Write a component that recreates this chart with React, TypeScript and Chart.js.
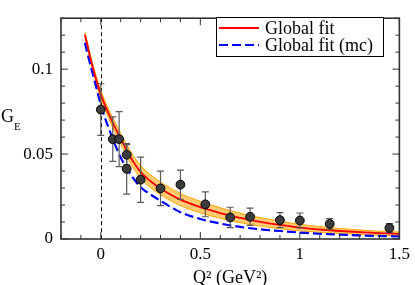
import React, { useEffect, useRef } from "react";
import { Chart, registerables } from "chart.js";

Chart.register(...registerables);

// ---------- data ----------
const curveQ2 = [-0.08, -0.06, -0.04, -0.02, 0, 0.05, 0.1, 0.15, 0.2, 0.25, 0.3, 0.4, 0.5, 0.6, 0.7, 0.8, 0.9, 1.0, 1.1, 1.2, 1.3, 1.4, 1.5];
const globalFit = [0.1204, 0.1104, 0.101, 0.0925, 0.085, 0.071, 0.059, 0.048, 0.0395, 0.034, 0.0298, 0.0232, 0.0188, 0.0153, 0.0124, 0.0101, 0.0083, 0.0067, 0.0056, 0.0047, 0.004, 0.0034, 0.003];
const globalFitMc = [0.1155, 0.106, 0.097, 0.088, 0.079, 0.062, 0.048, 0.038, 0.0305, 0.0262, 0.0225, 0.0158, 0.0118, 0.0091, 0.0071, 0.0057, 0.0047, 0.0038, 0.0031, 0.0026, 0.0021, 0.0018, 0.0015];
const bandUpper = [0.1219, 0.1121, 0.1029, 0.0946, 0.0874, 0.0738, 0.0622, 0.0516, 0.0433, 0.0378, 0.0335, 0.0268, 0.0222, 0.0184, 0.0152, 0.0126, 0.0105, 0.0086, 0.0073, 0.0062, 0.0053, 0.0046, 0.0041];
const bandLower = [0.1189, 0.1087, 0.0991, 0.0904, 0.0826, 0.0682, 0.0558, 0.0444, 0.0357, 0.0302, 0.0261, 0.0196, 0.0154, 0.0122, 0.0096, 0.0076, 0.0061, 0.0048, 0.0039, 0.0032, 0.0027, 0.0022, 0.0019];

const dataQ2 = [0.0, 0.06, 0.092, 0.13, 0.13, 0.2, 0.3, 0.4, 0.525, 0.65, 0.75, 0.9, 1.0, 1.15, 1.45];
const dataGE = [0.0762, 0.0588, 0.0588, 0.0496, 0.0413, 0.0349, 0.0298, 0.032, 0.0204, 0.0127, 0.0131, 0.0111, 0.0109, 0.0089, 0.0065];
const dataErr = [0.0152, 0.0131, 0.0162, 0.006, 0.0149, 0.0133, 0.0102, 0.0086, 0.0073, 0.006, 0.0051, 0.0044, 0.0044, 0.0031, 0.0026];

const xTicks = [0, 0.5, 1, 1.5];
const xTickLabels = ["0", "0.5", "1", "1.5"];
const yTicks = [0, 0.05, 0.1];
const yTickLabels = ["0", "0.05", "0.1"];
const xMinorTicks = [-0.2, -0.1, 0, 0.1, 0.2, 0.3, 0.4, 0.5, 0.6, 0.7, 0.8, 0.9, 1.0, 1.1, 1.2, 1.3, 1.4, 1.5];
const yMinorTicks = [0, 0.01, 0.02, 0.03, 0.04, 0.05, 0.06, 0.07, 0.08, 0.09, 0.1, 0.11, 0.12, 0.13];
const legendLabels = ["Global fit", "Global fit (mc)"];
const xTitle = "Q\u00B2 (GeV\u00B2)";
const yTitleMain = "G";
const yTitleSub = "E";

const SERIF = "'Liberation Serif', 'Times New Roman', serif";
const RED = "#ff0000";
const BLUE = "#0000ff";

const pts = (xs: number[], ys: number[]) => xs.map((x, i) => ({ x, y: ys[i] }));

const decorPlugin = {
  id: "decor",
  beforeDatasetsDraw(chart: any) {
    const { ctx, chartArea, scales } = chart;
    const x0 = scales.x.getPixelForValue(0);
    ctx.save();
    ctx.strokeStyle = "#000";
    ctx.lineWidth = 1;
    ctx.setLineDash([4, 3]);
    ctx.beginPath();
    ctx.moveTo(Math.round(x0) + 0.5, chartArea.top);
    ctx.lineTo(Math.round(x0) + 0.5, chartArea.bottom);
    ctx.stroke();
    ctx.restore();
  },
  beforeDatasetDraw(chart: any, args: any) {
    if (args.index !== 0) return;
    const { ctx, scales } = chart;
    ctx.save();
    ctx.strokeStyle = "#5a5a5a";
    ctx.lineWidth = 1.2;
    dataQ2.forEach((q, i) => {
      const px = scales.x.getPixelForValue(q);
      const top = scales.y.getPixelForValue(dataGE[i] + dataErr[i]);
      const bot = scales.y.getPixelForValue(dataGE[i] - dataErr[i]);
      ctx.beginPath();
      ctx.moveTo(px, top);
      ctx.lineTo(px, bot);
      ctx.moveTo(px - 3.5, top);
      ctx.lineTo(px + 3.5, top);
      ctx.moveTo(px - 3.5, bot);
      ctx.lineTo(px + 3.5, bot);
      ctx.stroke();
    });
    ctx.restore();
  },
  afterDraw(chart: any) {
    const { ctx, chartArea, scales } = chart;
    const { left, right, top, bottom } = chartArea;
    ctx.save();
    // frame
    ctx.strokeStyle = "#333";
    ctx.lineWidth = 1.6;
    ctx.setLineDash([]);
    ctx.strokeRect(left, top, right - left, bottom - top);
    // ticks
    ctx.lineWidth = 1;
    ctx.beginPath();
    xMinorTicks.forEach((v) => {
      const px = scales.x.getPixelForValue(v);
      const len = xTicks.includes(v) ? 7 : 4;
      ctx.moveTo(px, bottom);
      ctx.lineTo(px, bottom - len);
      ctx.moveTo(px, top);
      ctx.lineTo(px, top + len);
    });
    yMinorTicks.forEach((v) => {
      const py = scales.y.getPixelForValue(v);
      const len = yTicks.includes(v) ? 7 : 4;
      ctx.moveTo(left, py);
      ctx.lineTo(left + len, py);
      ctx.moveTo(right, py);
      ctx.lineTo(right - len, py);
    });
    ctx.stroke();

    // y title
    ctx.fillStyle = "#000";
    ctx.textBaseline = "alphabetic";
    ctx.textAlign = "left";
    ctx.font = `18px ${SERIF}`;
    ctx.fillText(yTitleMain, 1, 122);
    const gw = ctx.measureText(yTitleMain).width;
    ctx.font = `11px ${SERIF}`;
    ctx.fillText(yTitleSub, 1 + gw, 130);

    // legend
    const lx = 216, ly = 17, lw = 167, lh = 39;
    ctx.fillStyle = "#fff";
    ctx.fillRect(lx, ly, lw, lh);
    ctx.strokeStyle = "#000";
    ctx.lineWidth = 1;
    ctx.strokeRect(lx + 0.5, ly + 0.5, lw, lh);
    ctx.lineWidth = 1.8;
    ctx.strokeStyle = RED;
    ctx.beginPath();
    ctx.moveTo(219, 28);
    ctx.lineTo(259, 28);
    ctx.stroke();
    ctx.lineWidth = 2.2;
    ctx.strokeStyle = BLUE;
    ctx.setLineDash([9, 4]);
    ctx.beginPath();
    ctx.moveTo(219, 45);
    ctx.lineTo(259, 45);
    ctx.stroke();
    ctx.setLineDash([]);
    ctx.fillStyle = "#000";
    ctx.font = `18px ${SERIF}`;
    ctx.fillText(legendLabels[0], 265, 34);
    ctx.fillText(legendLabels[1], 265, 51);
    ctx.restore();
  },
};

export default function App() {
  const ref = useRef<HTMLCanvasElement | null>(null);
  useEffect(() => {
    document.body.style.margin = "0";
    const canvas = ref.current!;
    const chart = new Chart(canvas, {
      type: "line",
      data: {
        datasets: [
          {
            type: "scatter",
            label: "data",
            data: pts(dataQ2, dataGE),
            pointRadius: 4.4,
            pointBackgroundColor: "#3c3c3c",
            pointBorderColor: "#000",
            pointBorderWidth: 1,
            showLine: false,
          },
          {
            label: legendLabels[0],
            data: pts(curveQ2, globalFit),
            borderColor: RED,
            borderWidth: 1.8,
            pointRadius: 0,
            fill: false,
            cubicInterpolationMode: "monotone",
          },
          {
            label: legendLabels[1],
            data: pts(curveQ2, globalFitMc),
            borderColor: BLUE,
            borderWidth: 2.2,
            borderDash: [9, 4],
            pointRadius: 0,
            fill: false,
            cubicInterpolationMode: "monotone",
          },
          {
            label: "band upper",
            data: pts(curveQ2, bandUpper),
            borderColor: "#ffa500",
            borderWidth: 1,
            pointRadius: 0,
            backgroundColor: "rgba(255,170,20,0.6)",
            fill: "+1",
            cubicInterpolationMode: "monotone",
          },
          {
            label: "band lower",
            data: pts(curveQ2, bandLower),
            borderColor: "#ffa500",
            borderWidth: 1,
            pointRadius: 0,
            fill: false,
            cubicInterpolationMode: "monotone",
          },
        ],
      },
      options: {
        responsive: false,
        animation: false,
        devicePixelRatio: 1,
        layout: { padding: { top: 2, right: 12, left: 0, bottom: 0 } },
        plugins: { legend: { display: false }, tooltip: { enabled: false } },
        scales: {
          x: {
            type: "linear",
            min: -0.2,
            max: 1.5,
            afterBuildTicks: (s: any) => {
              s.ticks = xTicks.map((v) => ({ value: v }));
            },
            afterFit: (s: any) => {
              s.height = 46;
            },
            grid: { display: false, drawTicks: false },
            border: { display: false },
            ticks: {
              padding: 5,
              color: "#000",
              font: { family: SERIF, size: 17 },
              maxRotation: 0,
              callback: (_v: any, i: number) => xTickLabels[i],
            },
            title: {
              display: true,
              text: xTitle,
              color: "#000",
              font: { family: SERIF, size: 18 },
              padding: { top: 0, bottom: -4 },
            },
          },
          y: {
            type: "linear",
            min: 0,
            max: 0.13,
            afterBuildTicks: (s: any) => {
              s.ticks = yTicks.map((v) => ({ value: v }));
            },
            afterFit: (s: any) => {
              s.width = 61;
            },
            grid: { display: false, drawTicks: false },
            border: { display: false },
            ticks: {
              padding: 8,
              color: "#000",
              font: { family: SERIF, size: 17 },
              callback: (_v: any, i: number) => yTickLabels[i],
            },
          },
        },
      },
      plugins: [decorPlugin],
    });
    return () => chart.destroy();
  }, []);
  return (
    <canvas
      ref={ref}
      width={415}
      height={285}
      style={{ display: "block", width: "415px", height: "285px" }}
    />
  );
}
